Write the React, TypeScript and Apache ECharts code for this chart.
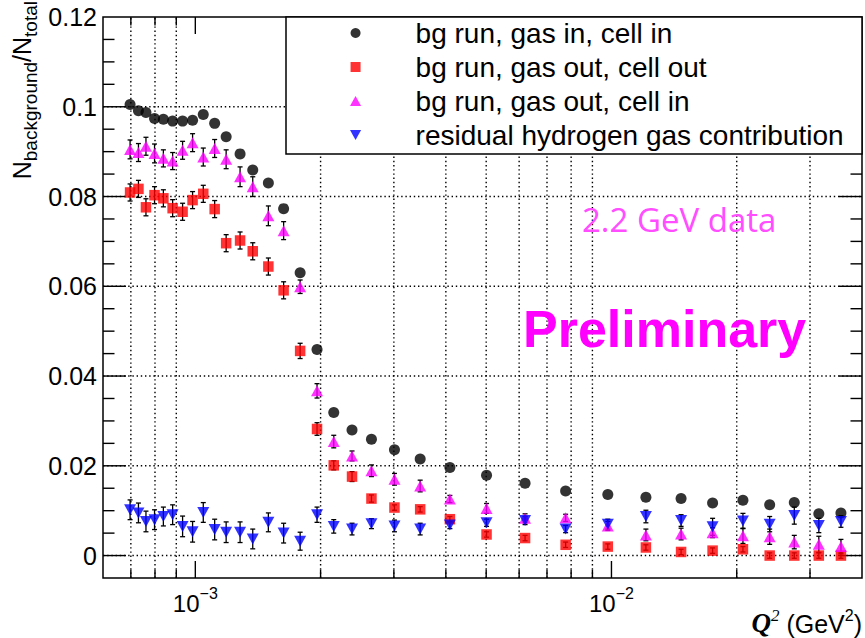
import React, { useEffect, useRef } from "react";
import * as echarts from "echarts";

// ---------------- data ----------------
const q2 = [
  0.000697, 0.00073, 0.000761, 0.000798, 0.000838, 0.000882, 0.000932, 0.000985, 0.001045, 0.001113,
  0.001186, 0.001281, 0.001374, 0.001498, 0.00163, 0.001786, 0.001961, 0.002151, 0.00238, 0.00265,
  0.00301, 0.00347, 0.00409, 0.00501, 0.0062, 0.00776, 0.0098, 0.0121, 0.0147, 0.0175,
  0.0207, 0.024, 0.0275, 0.0315, 0.0356,
];

const gasInCellIn = [
  0.1005, 0.0991, 0.0987, 0.0974, 0.0972, 0.0968, 0.0968, 0.097, 0.0983, 0.0963,
  0.0933, 0.0895, 0.0859, 0.083, 0.0773, 0.063, 0.0459, 0.0319, 0.028, 0.0259,
  0.0236, 0.0215, 0.0196, 0.0179, 0.0161, 0.0144, 0.0136, 0.013, 0.0127, 0.0117,
  0.0123, 0.0113, 0.0118, 0.0093, 0.0095,
];

const gasOutCellOut = [
  0.0809, 0.0817, 0.0776, 0.0803, 0.0796, 0.0774, 0.0766, 0.0792, 0.0806, 0.0772,
  0.0696, 0.0702, 0.0678, 0.0644, 0.0591, 0.0456, 0.0282, 0.0201, 0.0176, 0.0127,
  0.0107, 0.0103, 0.0081, 0.0047, 0.0039, 0.0024, 0.002, 0.0018, 0.0008, 0.0011,
  0.0014, 0.0, 0.0, 0.0, 0.0,
];
const gasOutCellOutErr = [
  0.0019, 0.0019, 0.0019, 0.0019, 0.0019, 0.0019, 0.0019, 0.0019, 0.0019, 0.0019,
  0.0019, 0.0019, 0.0019, 0.0019, 0.0019, 0.0017, 0.0014, 0.001, 0.0011, 0.0008,
  0.0006, 0.0006, 0.0006, 0.0006, 0.0006, 0.0006, 0.0006, 0.0006, 0.0006, 0.0006,
  0.0006, 0.0006, 0.0006, 0.0006, 0.0006,
];

const gasOutCellIn = [
  0.0905, 0.0898, 0.0912, 0.0896, 0.0885, 0.0879, 0.0903, 0.092, 0.0888, 0.0907,
  0.0883, 0.0844, 0.0822, 0.0757, 0.0724, 0.0599, 0.0367, 0.0254, 0.0222, 0.0189,
  0.017, 0.0155, 0.0126, 0.0105, 0.0083, 0.0084, 0.0066, 0.0046, 0.0048, 0.0051,
  0.0044, 0.0042, 0.003, 0.0025, 0.002,
];
const gasOutCellInErr = [
  0.0021, 0.002, 0.002, 0.0021, 0.0019, 0.0019, 0.002, 0.002, 0.002, 0.002,
  0.0021, 0.0022, 0.0022, 0.0022, 0.002, 0.0015, 0.0016, 0.0014, 0.0011, 0.0013,
  0.0013, 0.0013, 0.0008, 0.0011, 0.001, 0.0008, 0.001, 0.0013, 0.0013, 0.0011,
  0.0017, 0.0017, 0.0015, 0.0018, 0.0016,
];

const residualH = [
  0.0102, 0.0095, 0.0076, 0.008, 0.0087, 0.0091, 0.0065, 0.0053, 0.0096, 0.0058,
  0.0052, 0.0052, 0.0037, 0.0074, 0.005, 0.0032, 0.0091, 0.0065, 0.0059, 0.0071,
  0.0066, 0.0059, 0.0068, 0.0073, 0.0078, 0.0059, 0.007, 0.0087, 0.0078, 0.0064,
  0.0077, 0.007, 0.0089, 0.0067, 0.0076,
];
const residualHErr = [
  0.0022, 0.0022, 0.0023, 0.0022, 0.0021, 0.0022, 0.0023, 0.0023, 0.0022, 0.0023,
  0.0023, 0.0023, 0.0022, 0.0021, 0.0022, 0.002, 0.0017, 0.0015, 0.0013, 0.0011,
  0.0013, 0.0013, 0.0008, 0.0008, 0.0009, 0.0008, 0.0011, 0.0014, 0.0013, 0.0019,
  0.0017, 0.0017, 0.0019, 0.0016, 0.0013,
];

const seriesNames = [
  "bg run, gas in, cell in",
  "bg run, gas out, cell out",
  "bg run, gas out, cell in",
  "residual hydrogen gas contribution",
];

const xMin = 0.0006;
const xMax = 0.04;
const yMin = -0.005;
const yMax = 0.12;
const xTicksMinor = [0.0007, 0.0008, 0.0009, 0.002, 0.003, 0.004, 0.005, 0.006, 0.007, 0.008, 0.009, 0.02, 0.03];
const xTicksMajor = [0.001, 0.01];
const yTicksMajor = [0, 0.02, 0.04, 0.06, 0.08, 0.1, 0.12];
const yTickStep = 0.005;

const SANS = "'Liberation Sans', Arial, Helvetica, sans-serif";
const SERIF = "'Liberation Serif', 'Times New Roman', serif";
const SQUARE = "path://M0,0L10,0L10,10L0,10Z";
const TRI = "path://M5,0L10,9L0,9Z";
const INV_TRI = "path://M0,0L10,0L5,9Z";

function isMultiple(v: number, step: number) {
  return Math.abs(v / step - Math.round(v / step)) < 1e-6;
}

export default function App() {
  const ref = useRef<HTMLDivElement>(null);

  useEffect(() => {
    if (!ref.current) return;
    const chart = echarts.init(ref.current, null, { renderer: "svg" });

    const xTickData = [
      ...xTicksMinor.map((v) => [v, 0, 0, 1]),
      ...xTicksMajor.map((v) => [v, 0, 1, 0]),
    ];
    const yTickData: number[][] = [];
    for (let k = 1; k * yTickStep < yMax - yMin - 1e-9; k++) {
      const v = +(yMin + k * yTickStep).toFixed(4);
      const major = yTicksMajor.some((m) => Math.abs(m - v) < 1e-9) ? 1 : 0;
      yTickData.push([xMin, v, major]);
    }

    const dotted = { stroke: "#000", lineWidth: 1.4, lineDash: [1.4, 2.8] };
    const solid = { stroke: "#000", lineWidth: 1.4 };

    const errSeries = (name: string, ys: number[], errs: number[]) => ({
      type: "custom",
      name,
      z: 2,
      silent: true,
      clip: false,
      data: q2.map((q, i) => [q, ys[i], errs[i]]),
      renderItem: (_p: any, api: any) => {
        const x = api.value(0);
        const y = api.value(1);
        const e = api.value(2);
        const a = api.coord([x, y - e]);
        const b = api.coord([x, y + e]);
        const cw = 2.5;
        const st = { stroke: "#000", lineWidth: 1.3 };
        return {
          type: "group",
          children: [
            { type: "line", shape: { x1: a[0], y1: a[1], x2: b[0], y2: b[1] }, style: st },
            { type: "line", shape: { x1: a[0] - cw, y1: a[1], x2: a[0] + cw, y2: a[1] }, style: st },
            { type: "line", shape: { x1: b[0] - cw, y1: b[1], x2: b[0] + cw, y2: b[1] }, style: st },
          ],
        };
      },
    });

    const option: any = {
      animation: false,
      textStyle: { fontFamily: SANS },
      grid: {
        left: 103,
        top: 17,
        right: 3,
        bottom: 60,
        show: true,
        borderColor: "#000",
        borderWidth: 1.5,
        backgroundColor: "transparent",
        containLabel: false,
        outerBoundsMode: "none",
      },
      xAxis: {
        type: "log",
        logBase: 10,
        min: xMin,
        max: xMax,
        axisLine: { show: false },
        axisTick: { show: false },
        splitLine: { show: false },
        minorTick: { show: false },
        minorSplitLine: { show: false },
        axisLabel: {
          showMinLabel: false,
          showMaxLabel: false,
          margin: 7,
          formatter: (v: number) => {
            const l = Math.log10(v);
            if (Math.abs(l - Math.round(l)) > 1e-6) return "";
            const n = Math.round(l);
            return "{b|10}{s|" + (n < 0 ? "\u2212" + -n : "" + n) + "}";
          },
          rich: {
            b: { fontSize: 24, fontFamily: SANS, lineHeight: 30, verticalAlign: "bottom", color: "#000" },
            s: { fontSize: 16, fontFamily: SANS, lineHeight: 16, verticalAlign: "top", color: "#000" },
          },
        },
      },
      yAxis: {
        type: "value",
        min: yMin,
        max: yMax,
        interval: yTickStep,
        axisLine: { show: false },
        axisTick: { show: false },
        splitLine: { show: false },
        axisLabel: {
          fontSize: 25,
          fontFamily: SANS,
          color: "#000",
          margin: 6,
          formatter: (v: number) => {
            if (v < -1e-9 || !isMultiple(v, 0.02)) return "";
            if (Math.abs(v) < 1e-9) return "0";
            return String(+v.toFixed(2));
          },
        },
      },
      legend: {
        left: 350,
        top: 19,
        orient: "vertical",
        align: "left",
        padding: 0,
        itemGap: 6,
        itemWidth: 110,
        itemHeight: 10,
        selectedMode: false,
        z: 10,
        textStyle: { fontSize: 28, lineHeight: 28, fontFamily: SANS, color: "#000" },
        data: [
          { name: seriesNames[0], icon: "circle" },
          { name: seriesNames[1], icon: SQUARE },
          { name: seriesNames[2], icon: TRI },
          { name: seriesNames[3], icon: INV_TRI },
        ],
      },
      graphic: [
        {
          type: "rect",
          z: 5,
          shape: { x: 286, y: 17, width: 576, height: 137 },
          style: { fill: "#fff", stroke: "#000", lineWidth: 1.5 },
        },
        {
          type: "text",
          z: 6,
          x: 9,
          y: 1,
          rotation: Math.PI / 2,
          style: {
            text: "{n|N}{s|background}{n|/N}{s|total}",
            align: "right",
            verticalAlign: "top",
            fill: "#000",
            rich: {
              n: { fontSize: 25, fontFamily: SANS, lineHeight: 25, verticalAlign: "top", fill: "#000" },
              s: { fontSize: 19, fontFamily: SANS, lineHeight: 31, verticalAlign: "bottom", fill: "#000" },
            },
          },
        },
        {
          type: "text",
          z: 6,
          x: 862,
          y: 636,
          style: {
            text: "{q|Q}{qs|2}{t| (GeV}{ts|2}{t|)}",
            align: "right",
            verticalAlign: "bottom",
            fill: "#000",
            rich: {
              q: { fontSize: 27, fontFamily: SERIF, fontStyle: "italic", fontWeight: "bold", lineHeight: 29, verticalAlign: "bottom", fill: "#000" },
              qs: { fontSize: 17, fontFamily: SERIF, fontStyle: "italic", lineHeight: 17, verticalAlign: "top", fill: "#000" },
              t: { fontSize: 25, fontFamily: SANS, lineHeight: 29, verticalAlign: "bottom", fill: "#000" },
              ts: { fontSize: 16, fontFamily: SANS, lineHeight: 16, verticalAlign: "top", fill: "#000" },
            },
          },
        },
        {
          type: "text",
          z: 6,
          x: 582,
          y: 219.5,
          style: {
            text: "2.2 GeV data",
            fontSize: 33,
            fontFamily: "'Open Sans', 'Noto Sans', sans-serif",
            fill: "#ff4dff",
            align: "left",
            verticalAlign: "middle",
          },
        },
        {
          type: "text",
          z: 6,
          x: 523,
          y: 328.7,
          style: {
            text: "Preliminary",
            fontSize: 52,
            fontWeight: "bold",
            fontFamily: SANS,
            fill: "#ff00ff",
            align: "left",
            verticalAlign: "middle",
          },
        },
      ],
      series: [
        {
          type: "custom",
          name: "x-ticks",
          z: 1,
          silent: true,
          clip: false,
          data: xTickData,
          renderItem: (_p: any, api: any) => {
            const v = api.value(0);
            const major = api.value(2);
            const grid = api.value(3);
            const bot = api.coord([v, yMin]);
            const top = api.coord([v, yMax]);
            const len = major ? 17 : 8.5;
            const children: any[] = [];
            if (grid) children.push({ type: "line", shape: { x1: bot[0], y1: bot[1], x2: top[0], y2: top[1] }, style: dotted });
            children.push({ type: "line", shape: { x1: bot[0], y1: bot[1], x2: bot[0], y2: bot[1] - len }, style: solid });
            children.push({ type: "line", shape: { x1: top[0], y1: top[1], x2: top[0], y2: top[1] + len }, style: solid });
            return { type: "group", children };
          },
        },
        {
          type: "custom",
          name: "y-ticks",
          z: 1,
          silent: true,
          clip: false,
          data: yTickData,
          renderItem: (_p: any, api: any) => {
            const v = api.value(1);
            const major = api.value(2);
            const l = api.coord([xMin, v]);
            const r = api.coord([xMax, v]);
            const len = major ? 23 : 11.5;
            const children: any[] = [];
            if (major) children.push({ type: "line", shape: { x1: l[0], y1: l[1], x2: r[0], y2: r[1] }, style: dotted });
            children.push({ type: "line", shape: { x1: l[0], y1: l[1], x2: l[0] + len, y2: l[1] }, style: solid });
            children.push({ type: "line", shape: { x1: r[0], y1: r[1], x2: r[0] - len, y2: r[1] }, style: solid });
            return { type: "group", children };
          },
        },
        errSeries("err-red", gasOutCellOut, gasOutCellOutErr),
        errSeries("err-magenta", gasOutCellIn, gasOutCellInErr),
        errSeries("err-blue", residualH, residualHErr),
        {
          type: "scatter",
          name: seriesNames[0],
          z: 3,
          symbol: "circle",
          symbolSize: 11,
          itemStyle: { color: "#000000" },
          data: q2.map((q, i) => [q, gasInCellIn[i]]),
        },
        {
          type: "scatter",
          name: seriesNames[1],
          z: 3,
          symbol: SQUARE,
          symbolSize: 10.5,
          itemStyle: { color: "#ff0000" },
          data: q2.map((q, i) => [q, gasOutCellOut[i]]),
        },
        {
          type: "scatter",
          name: seriesNames[2],
          z: 3,
          symbol: TRI,
          symbolSize: [12, 11],
          itemStyle: { color: "#ff00ff" },
          data: q2.map((q, i) => [q, gasOutCellIn[i]]),
        },
        {
          type: "scatter",
          name: seriesNames[3],
          z: 3,
          symbol: INV_TRI,
          symbolSize: [12, 11],
          itemStyle: { color: "#0000ff" },
          data: q2.map((q, i) => [q, residualH[i]]),
        },
      ],
    };

    chart.setOption(option);
    return () => chart.dispose();
  }, []);

  return <div ref={ref} style={{ position: "absolute", left: 0, top: 0, width: 865, height: 638 }} />;
}
